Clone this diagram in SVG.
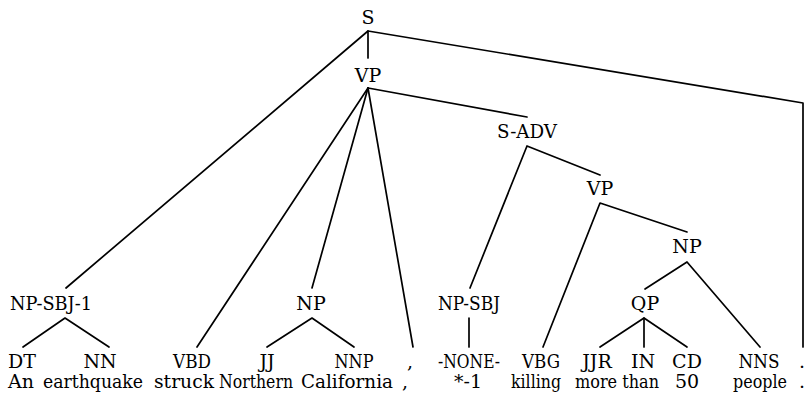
<svg xmlns="http://www.w3.org/2000/svg" width="804" height="401" viewBox="0 0 804 401">
  <style>
    .edge { stroke: #000; stroke-width: 1.7; fill: none; stroke-linecap: round; stroke-linejoin: round; }
    .lbl { font-family: "DejaVu Serif", "Liberation Serif", serif; font-size: 19px; fill: #000; text-anchor: middle; }
  </style>
  <rect width="804" height="401" fill="#fff"/>

  <!-- connectors -->
  <g id="connectors" class="edge">
    <!-- S -->
    <polyline points="66,288 368,31 368,58"/>
    <polyline points="368,31 803,103 803,347"/>
    <!-- VP -->
    <line x1="368" y1="88" x2="197" y2="347"/>
    <line x1="368" y1="88" x2="312" y2="288"/>
    <line x1="368" y1="88" x2="413" y2="347"/>
    <line x1="368" y1="88" x2="527" y2="117"/>
    <!-- NP-SBJ-1 -->
    <polyline points="23,347 65,318 109,347"/>
    <!-- NP (Northern California) -->
    <polyline points="267,347 312,318 354,347"/>
    <!-- S-ADV -->
    <polyline points="470,288 527,146 600,175"/>
    <!-- NP-SBJ -->
    <line x1="469" y1="318" x2="469" y2="347"/>
    <!-- inner VP -->
    <polyline points="543,347 600,203 687,232"/>
    <!-- inner NP -->
    <polyline points="645,289 687,262 760,347"/>
    <!-- QP -->
    <polyline points="600,347 644,318 687,347"/>
    <line x1="644" y1="318" x2="644" y2="347"/>
  </g>

  <g id="labels" class="lbl">
    <!-- phrase nodes -->
    <g id="node-S"><text x="368" y="24">S</text></g>
    <g id="node-VP"><text x="368" y="82">VP</text></g>
    <g id="node-S-ADV"><text x="527" y="138" textLength="60" lengthAdjust="spacingAndGlyphs">S-ADV</text></g>
    <g id="node-VP2"><text x="600" y="195">VP</text></g>
    <g id="node-NP2"><text x="687" y="253">NP</text></g>
    <g id="node-NP-SBJ-1"><text x="51" y="310" textLength="82" lengthAdjust="spacingAndGlyphs">NP-SBJ-1</text></g>
    <g id="node-NP"><text x="311" y="310">NP</text></g>
    <g id="node-NP-SBJ"><text x="469" y="310" textLength="62" lengthAdjust="spacingAndGlyphs">NP-SBJ</text></g>
    <g id="node-QP"><text x="645" y="310">QP</text></g>

    <!-- part-of-speech tags -->
    <g id="tag-DT"><text x="22" y="368">DT</text></g>
    <g id="tag-NN"><text x="100" y="368">NN</text></g>
    <g id="tag-VBD"><text x="192" y="368" textLength="38" lengthAdjust="spacingAndGlyphs">VBD</text></g>
    <g id="tag-JJ"><text x="267" y="368">JJ</text></g>
    <g id="tag-NNP"><text x="354" y="368" textLength="39" lengthAdjust="spacingAndGlyphs">NNP</text></g>
    <g id="tag-comma"><text x="410" y="368">,</text></g>
    <g id="tag-NONE"><text x="469" y="368" textLength="62" lengthAdjust="spacingAndGlyphs">-NONE-</text></g>
    <g id="tag-VBG"><text x="541" y="368" textLength="38" lengthAdjust="spacingAndGlyphs">VBG</text></g>
    <g id="tag-JJR"><text x="597" y="368">JJR</text></g>
    <g id="tag-IN"><text x="643" y="368">IN</text></g>
    <g id="tag-CD"><text x="687" y="368">CD</text></g>
    <g id="tag-NNS"><text x="759" y="368" textLength="41" lengthAdjust="spacingAndGlyphs">NNS</text></g>
    <g id="tag-period"><text x="802" y="368">.</text></g>

    <!-- words -->
    <g id="word-An"><text x="21" y="388">An</text></g>
    <g id="word-earthquake"><text x="93" y="388" textLength="100" lengthAdjust="spacingAndGlyphs">earthquake</text></g>
    <g id="word-struck"><text x="184" y="388" textLength="60" lengthAdjust="spacingAndGlyphs">struck</text></g>
    <g id="word-Northern"><text x="256" y="388" textLength="74" lengthAdjust="spacingAndGlyphs">Northern</text></g>
    <g id="word-California"><text x="347" y="388" textLength="92" lengthAdjust="spacingAndGlyphs">California</text></g>
    <g id="word-comma"><text x="405" y="388">,</text></g>
    <g id="word-trace"><text x="468" y="388">*-1</text></g>
    <g id="word-killing"><text x="536" y="388" textLength="50" lengthAdjust="spacingAndGlyphs">killing</text></g>
    <g id="word-more-than"><text x="617" y="388" textLength="84" lengthAdjust="spacingAndGlyphs">more than</text></g>
    <g id="word-50"><text x="687" y="388">50</text></g>
    <g id="word-people"><text x="760" y="388" textLength="54" lengthAdjust="spacingAndGlyphs">people</text></g>
    <g id="word-period"><text x="802" y="388">.</text></g>
  </g>
</svg>
